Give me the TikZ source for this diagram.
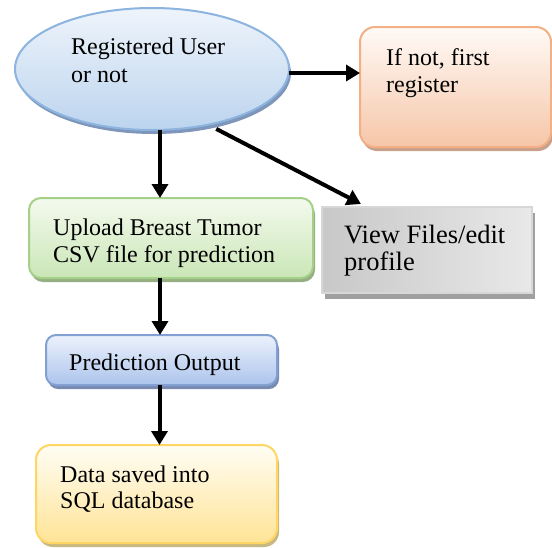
\documentclass[tikz,border=0pt]{standalone}
\usepackage{fontspec}
\setmainfont{Liberation Serif}
\usetikzlibrary{shapes.geometric,shadows,calc,arrows.meta}

\definecolor{blueEdge}{RGB}{140,180,222}
\definecolor{blueTop}{RGB}{238,244,251}
\definecolor{blueBot}{RGB}{188,212,238}
\definecolor{blueShade}{RGB}{125,150,185}
\definecolor{orEdge}{RGB}{244,176,132}
\definecolor{orTop}{RGB}{255,250,246}
\definecolor{orBot}{RGB}{246,198,168}
\definecolor{orShade}{RGB}{200,160,140}
\definecolor{grEdge}{RGB}{165,208,135}
\definecolor{grTop}{RGB}{244,250,238}
\definecolor{grBot}{RGB}{202,230,182}
\definecolor{grShade}{RGB}{150,175,130}
\definecolor{pbEdge}{RGB}{130,160,210}
\definecolor{pbTop}{RGB}{236,242,252}
\definecolor{pbBot}{RGB}{172,196,236}
\definecolor{pbShade}{RGB}{120,138,175}
\definecolor{yeEdge}{RGB}{255,214,100}
\definecolor{yeTop}{RGB}{255,253,244}
\definecolor{yeBot}{RGB}{255,228,150}
\definecolor{yeShade}{RGB}{200,185,130}
\definecolor{gyEdge}{RGB}{215,215,215}
\definecolor{gyShade}{RGB}{160,160,160}
\definecolor{gyDark}{RGB}{200,200,200}
\definecolor{gyLight}{RGB}{238,238,238}

\tikzset{
  boxbase/.style={line width=2pt, inner sep=0pt, outer sep=0pt},
  shade/.style={drop shadow={shadow xshift=2pt, shadow yshift=-4pt, fill=#1, opacity=1}},
  txt/.style={anchor=base west, inner sep=0pt, font=\fontsize{24}{28}\selectfont},
  bigtxt/.style={anchor=base west, inner sep=0pt, font=\fontsize{26.5}{28}\selectfont},
  link/.style={line width=4pt, -{Triangle[width=16pt,length=14pt]}}
}

\begin{document}
\begin{tikzpicture}[x=1pt, y=-1pt]
  \useasboundingbox (0,0) rectangle (552,547);

  % shapes
  \node[boxbase, ellipse, minimum width=274pt, minimum height=122pt,
        draw=blueEdge, top color=blueTop, bottom color=blueBot, shade=blueShade]
        (reg) at (152,69) {};
  \node[boxbase, rectangle, rounded corners=15pt, minimum width=191pt, minimum height=120pt,
        draw=orEdge, top color=orTop, bottom color=orBot, shade=orShade]
        (first) at (455.5,87) {};
  \node[boxbase, rectangle, rounded corners=12pt, minimum width=284pt, minimum height=80pt,
        draw=grEdge, top color=grTop, bottom color=grBot, shade=grShade]
        (up) at (171,238) {};
  \node[boxbase, rectangle, minimum width=210pt, minimum height=86pt,
        draw=gyEdge, line width=1.5pt, left color=gyDark, middle color=gyLight, right color=gyLight!85!gyDark,
        drop shadow={shadow xshift=3pt, shadow yshift=-6pt, fill=gyShade, opacity=1}]
        (view) at (427,250) {};
  \node[boxbase, rectangle, rounded corners=10pt, minimum width=231pt, minimum height=50pt,
        draw=pbEdge, top color=pbTop, bottom color=pbBot, shade=pbShade]
        (pred) at (161.5,360) {};
  \node[boxbase, rectangle, rounded corners=15pt, minimum width=241pt, minimum height=98pt,
        draw=yeEdge, top color=yeTop, bottom color=yeBot, shade=yeShade]
        (data) at (156.5,494) {};

  % labels
  \node[txt] (reg1) at (71,54) {Registered User};
  \node[txt] (reg2) at (71,82) {or not};
  \node[txt] (first1) at (386,65) {If not, first};
  \node[txt] (first2) at (386,92) {register};
  \node[txt] (up1) at (53,235) {Upload Breast Tumor};
  \node[txt] (up2) at (53,262) {CSV file for prediction};
  \node[bigtxt] (view1) at (344,243) {View Files/edit};
  \node[bigtxt] (view2) at (344,270) {profile};
  \node[txt] (pred1) at (69,370) {Prediction Output};
  \node[txt] (data1) at (60,482) {Data saved into};
  \node[txt] (data2) at (60,508) {SQL database};

  % connector end points
  \coordinate (regE) at ($(reg.east)+(0,4)$);
  \coordinate (regS) at ($(reg.south)+(8,0)$);
  \coordinate (regSE) at ($(reg.-40)+(0,6)$);
  \coordinate (viewIn) at ($(view.north west)+(39,-3)$);
  \coordinate (predS) at ($(pred.south)+(-2,0)$);

  % connectors
  \draw[link] (regE) -- (regE -| first.west);
  \draw[link] (regS) -- (regS |- up.north);
  \draw[link] (regS |- up.south) -- (regS |- pred.north);
  \draw[link] (regSE) -- (viewIn);
  \draw[link] (predS) -- (predS |- data.north);
\end{tikzpicture}
\end{document}
